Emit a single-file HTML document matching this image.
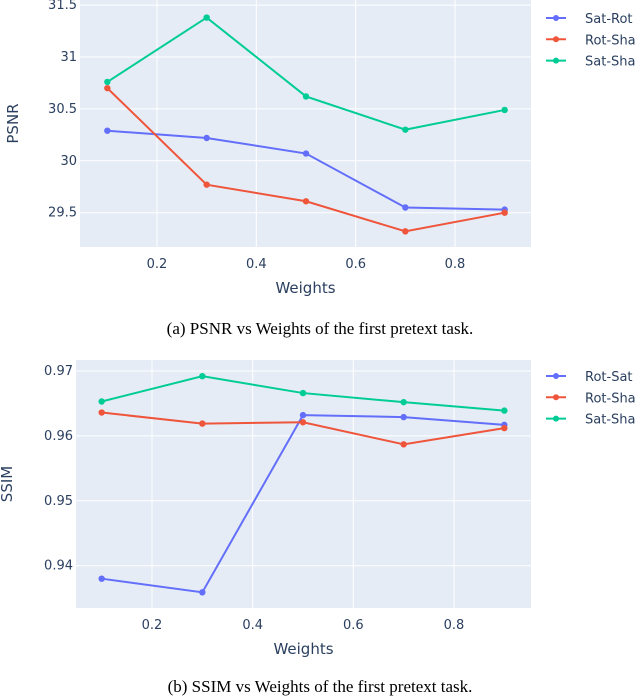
<!DOCTYPE html>
<html><head><meta charset="utf-8"><style>
body{margin:0;background:#fff;width:640px;height:696px;overflow:hidden}
svg{display:block}
.tick{font-family:"DejaVu Sans","Liberation Sans",sans-serif;font-size:13px;fill:#2a3f5f}
.ttl{font-family:"DejaVu Sans","Liberation Sans",sans-serif;font-size:15px;fill:#2a3f5f}
.leg{font-family:"DejaVu Sans","Liberation Sans",sans-serif;font-size:13px;fill:#2a3f5f}
.cap{font-family:"Liberation Serif",serif;font-size:17px;fill:#000}
</style></head><body>
<svg id="s" width="640" height="696"></svg>
<script>
const xVals=[0.1,0.3,0.5,0.7,0.9];
const xTicks=[0.2,0.4,0.6,0.8];
const psnrNames=["Sat-Rot","Rot-Sha","Sat-Sha"];
const psnrSatRot=[30.29,30.22,30.07,29.55,29.53];
const psnrRotSha=[30.70,29.77,29.61,29.32,29.50];
const psnrSatSha=[30.76,31.38,30.62,30.30,30.49];
const psnrTicks=[29.5,30,30.5,31,31.5];
const psnrTickLabels=["29.5","30","30.5","31","31.5"];
const ssimNames=["Rot-Sat","Rot-Sha","Sat-Sha"];
const ssimRotSat=[0.938,0.9359,0.9632,0.9629,0.9617];
const ssimRotSha=[0.9636,0.9619,0.9621,0.9587,0.9612];
const ssimSatSha=[0.9653,0.9692,0.9666,0.9652,0.9639];
const ssimTicks=[0.94,0.95,0.96,0.97];
const ssimTickLabels=["0.94","0.95","0.96","0.97"];
const colors=["#636efa","#ef553b","#00cc96"];
const NS="http://www.w3.org/2000/svg";
const svg=document.getElementById('s');
function mk(t,a,p){const e=document.createElementNS(NS,t);for(const k in a)e.setAttribute(k,a[k]);(p||svg).appendChild(e);return e;}
function chart(o){
  const g=mk('g',{});
  
  
  const X=v=>o.xa+(v-0.2)*(o.xb-o.xa)/0.6;
  const Y=v=>o.ya+(v-o.va)*(o.yb-o.ya)/(o.vb-o.va);
  const bg=mk('rect',{x:o.L,y:o.T,width:o.R-o.L,height:o.B-o.T,fill:'#e5ecf6'},g);
  
  xTicks.forEach(v=>{mk('line',{x1:X(v),x2:X(v),y1:o.T,y2:o.B,stroke:'#fff','stroke-width':1},g);
    const t=mk('text',{x:X(v),y:o.B+21,'text-anchor':'middle',class:'tick'},g);t.textContent=v.toFixed(1);
    });
  o.ticks.forEach((v,i)=>{mk('line',{x1:o.L,x2:o.R,y1:Y(v),y2:Y(v),stroke:'#fff','stroke-width':1},g);
    const t=mk('text',{x:o.L-3,y:Y(v)+4,'text-anchor':'end',class:'tick'},g);t.textContent=o.tl[i];
    });
  o.series.forEach((s,i)=>{
    const sg=mk('g',{},g);
    
    
    mk('polyline',{points:s.map((v,j)=>X(xVals[j])+','+Y(v)).join(' '),fill:'none',stroke:colors[i],'stroke-width':2},sg);
    s.forEach((v,j)=>{const c=mk('circle',{cx:X(xVals[j]),cy:Y(v),r:3.2,fill:colors[i]},sg);
      });
    const ly=o.legY+i*21.3;
    const lg=mk('g',{},g);
    
    
    mk('line',{x1:546,x2:566,y1:ly,y2:ly,stroke:colors[i],'stroke-width':2},lg);
    mk('circle',{cx:556,cy:ly,r:3,fill:colors[i]},lg);
    const lt=mk('text',{x:585,y:ly+5,class:'leg'},lg);lt.textContent=o.names[i];
  });
  const xt=mk('text',{x:(o.L+o.R)/2,y:o.xtY,'text-anchor':'middle',class:'ttl'},g);xt.textContent='Weights';
  
  const yt=mk('text',{x:0,y:0,'text-anchor':'middle',class:'ttl',transform:`translate(${o.ytX},${(o.T+o.B)/2}) rotate(-90)`},g);yt.textContent=o.ytitle;
  
  const cp=mk('text',{x:320,y:o.capY,'text-anchor':'middle',class:'cap'},g);cp.textContent=o.cap;
  
}
chart({name:'psnr-chart',L:80,R:531,T:0,B:247,xa:157,xb:455,ya:212.7,yb:57,va:29.5,vb:31,
  ticks:psnrTicks,tl:psnrTickLabels,series:[psnrSatRot,psnrRotSha,psnrSatSha],names:psnrNames,
  legY:18,xtY:293,ytX:18,ytitle:'PSNR',capY:334,cap:'(a) PSNR vs Weights of the first pretext task.'});
chart({name:'ssim-chart',L:76,R:531,T:360,B:608,xa:152,xb:454,ya:565.7,yb:371,va:0.94,vb:0.97,
  ticks:ssimTicks,tl:ssimTickLabels,series:[ssimRotSat,ssimRotSha,ssimSatSha],names:ssimNames,
  legY:376,xtY:654,ytX:12,ytitle:'SSIM',capY:692,cap:'(b) SSIM vs Weights of the first pretext task.'});
</script>
</body></html>
